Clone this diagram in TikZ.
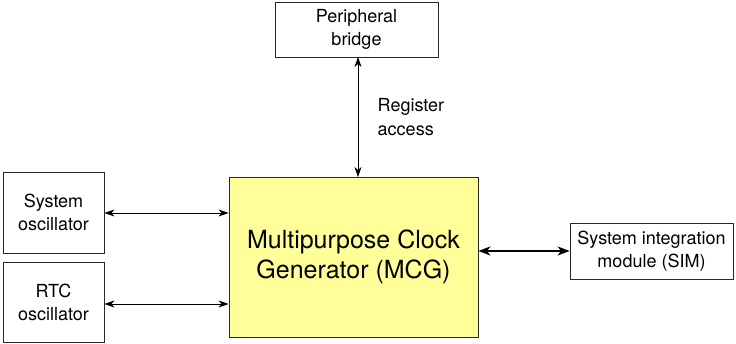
\documentclass[tikz,border=0pt]{standalone}
\usepackage{fontspec}
\setmainfont{TeX Gyre Heros}
\usetikzlibrary{arrows.meta,positioning}
\definecolor{mcgfill}{RGB}{255,255,153}
\definecolor{edge}{RGB}{40,40,40}
\tikzset{
  box/.style={draw=edge, thick, fill=white, inner sep=2pt, align=center,
              font=\fontsize{18}{23}\selectfont},
  mcg/.style={draw=edge, thick, fill=mcgfill, align=center,
              font=\fontsize{25}{30}\selectfont},
  link/.style={{Stealth[length=10pt,width=7pt,inset=3pt]}-{Stealth[length=10pt,width=7pt,inset=3pt]}, thick},
  biglink/.style={{Stealth[length=12pt,width=9pt,inset=3.5pt]}-{Stealth[length=12pt,width=9pt,inset=3.5pt]}, line width=2pt},
}
\begin{document}
\begin{tikzpicture}[x=1pt,y=-1pt]
  \useasboundingbox (0,0) rectangle (736,344);
  \node[mcg, minimum width=249pt, minimum height=160pt] (gen) at (353.5,257)
    {Multipurpose Clock\\Generator (MCG)};
  \node[box, minimum width=163pt, minimum height=55pt] (bridge) at (356.5,29.5)
    {Peripheral\\bridge};
  \node[box, minimum width=101pt, minimum height=81pt] (sysosc) at (53.5,212.5)
    {System\\oscillator};
  \node[box, minimum width=101pt, minimum height=80pt] (rtcosc) at (53.5,302)
    {RTC\\oscillator};
  \node[box, minimum width=163pt, minimum height=56pt] (sim) at (651.5,251)
    {System integration\\module (SIM)};
  \coordinate (top) at (358,57);
  \coordinate (bot) at (358,177);
  \draw[link] (top) -- (bot)
    node[midway, right=16pt, align=left, font=\fontsize{18}{24}\selectfont] {Register\\access};
  \draw[link] (sysosc.east |- 0,213) -- (gen.west |- 0,213);
  \draw[link] (rtcosc.east |- 0,304) -- (gen.west |- 0,304);
  \draw[biglink] (gen.east |- sim) -- (sim.west);
\end{tikzpicture}
\end{document}
